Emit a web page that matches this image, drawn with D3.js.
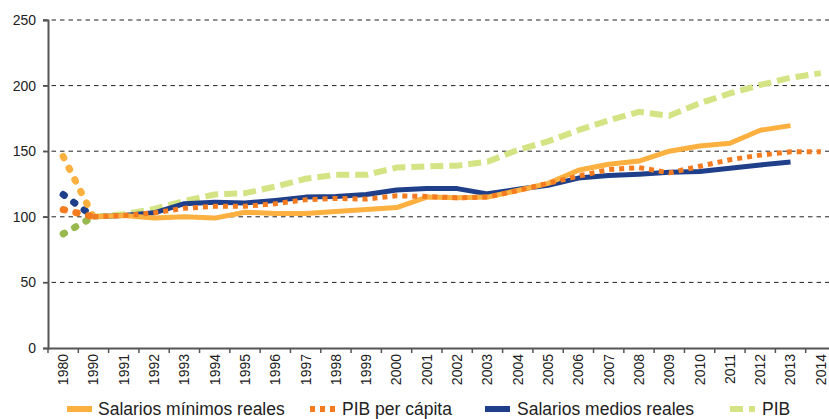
<!doctype html>
<html lang="es">
<head>
<meta charset="utf-8">
<title>Salarios y PIB</title>
<script src="https://cdn.jsdelivr.net/npm/d3@7"></script>
<style>
  body { margin: 0; background: #fff; }
  svg { display: block; font-family: "Liberation Sans", Arial, sans-serif; }
</style>
</head>
<body>
<svg id="chart" width="829" height="419"></svg>
<script>
// categories (1980 then 1990..2014)
const years = ["1980", "1990", "1991", "1992", "1993", "1994", "1995", "1996", "1997", "1998",
  "1999", "2000", "2001", "2002", "2003", "2004", "2005", "2006", "2007", "2008",
  "2009", "2010", "2011", "2012", "2013", "2014"];

// series (index 1990 = 100)
const salariosMinimos = [146, 100, 101, 99, 100, 99, 103.5, 102.5, 102.5, 104, 105.5, 107,
  115, 114.5, 115, 120, 125.5, 135.5, 140, 142.5, 150, 154, 156, 166, 169.5, null];
const pibPerCapita = [105.5, 100, 101, 103, 106.5, 108, 108, 110, 113, 114, 113.5, 116,
  115.5, 114.5, 115, 120, 125.5, 131, 136, 137.5, 133.5, 138.5, 143.5, 147, 149.5, 149.5];
const salariosMedios = [117, 100, 101, 103, 110, 111, 110.5, 112.5, 115, 115.5, 117, 120.5,
  121.5, 121.5, 117.5, 121, 124, 129.5, 131.5, 132.5, 134, 134.5, 137, 139.5, 141.7, null];
const pib = [87, 100, 102, 106, 112, 117, 118, 123, 129, 132, 132, 137.5,
  138.5, 139, 142, 151, 157.5, 166, 173.5, 180, 177, 186.5, 194, 200.5, 206, 209.5];

const yTicks = [0, 50, 100, 150, 200, 250];
const legendLabels = ["Salarios mínimos reales", "PIB per cápita", "Salarios medios reales", "PIB"];

const svg = d3.select("#chart");
const mLeft = 48, mTop = 20, mBottom = 348;

const x = d3.scaleBand().domain(years).range([mLeft, 836]);
const y = d3.scaleLinear().domain([0, 250]).range([mBottom, mTop]);
const cx = d => x(d) + x.bandwidth() / 2;

// gridlines
svg.append("g")
  .selectAll("line")
  .data(yTicks.filter(t => t > 0))
  .join("line")
  .attr("x1", mLeft - 5).attr("x2", 829)
  .attr("y1", d => y(d)).attr("y2", d => y(d))
  .attr("stroke", "#222").attr("stroke-width", 1)
  .attr("stroke-dasharray", "4.5 4");

// y axis
const yAxis = svg.append("g")
  .attr("transform", `translate(${mLeft},0)`)
  .call(d3.axisLeft(y).tickValues(yTicks).tickSize(5).tickPadding(7));
yAxis.select(".domain").attr("stroke", "#555").attr("stroke-width", 2);
yAxis.selectAll(".tick line").attr("stroke", "#555").attr("stroke-width", 1.5);
yAxis.selectAll("text").attr("font-size", 14).attr("fill", "#222")
  .attr("font-family", "Liberation Sans, Arial, sans-serif");

// x axis, ticks at band edges
const xAxis = svg.append("g")
  .attr("transform", `translate(0,${mBottom})`)
  .call(d3.axisBottom(x).tickSize(0).tickPadding(0));
xAxis.select(".domain").attr("stroke", "#555").attr("stroke-width", 2);
xAxis.selectAll(".tick text")
  .attr("font-size", 14).attr("fill", "#222")
  .attr("font-family", "Liberation Sans, Arial, sans-serif")
  .attr("transform", "rotate(-90)")
  .attr("text-anchor", "end")
  .attr("x", -6).attr("y", 0).attr("dy", "0.35em");
xAxis.append("g")
  .selectAll("line")
  .data(years)
  .join("line")
  .attr("x1", d => x(d)).attr("x2", d => x(d))
  .attr("y1", 0).attr("y2", 5)
  .attr("stroke", "#555").attr("stroke-width", 1.5);

const series = [
  { key: "pib", values: pib, color: "#d4e384", histColor: "#98b94f", width: 6, dash: "13 6", cap: "butt" },
  { key: "medios", values: salariosMedios, color: "#1f3f8a", histColor: "#1f3f8a", width: 5, dash: null, cap: "butt" },
  { key: "minimos", values: salariosMinimos, color: "#fbb040", histColor: "#fbb040", width: 5, dash: null, cap: "butt" },
  { key: "percapita", values: pibPerCapita, color: "#f47b20", histColor: "#f47b20", width: 5, dash: "5 5", cap: "butt" }
];

const line = d3.line()
  .defined(d => d.v != null)
  .x(d => cx(d.year))
  .y(d => y(d.v));

// 1980 -> 1990 segments drawn with round dots
series.forEach(s => {
  const pts = years.slice(0, 2).map((yr, i) => ({ year: yr, v: s.values[i] }));
  svg.append("path")
    .attr("d", line(pts))
    .attr("fill", "none")
    .attr("stroke", s.histColor)
    .attr("stroke-width", 7)
    .attr("stroke-linecap", "round")
    .attr("stroke-dasharray", "1.5 11.5");
});

// 1990 onwards
series.forEach(s => {
  const pts = years.slice(1).map((yr, i) => ({ year: yr, v: s.values[i + 1] }));
  svg.append("path")
    .attr("d", line(pts))
    .attr("fill", "none")
    .attr("stroke", s.color)
    .attr("stroke-width", s.width)
    .attr("stroke-linejoin", "round")
    .attr("stroke-linecap", s.cap)
    .attr("stroke-dasharray", s.dash);
});

// legend (kept just inside the bottom edge)
const legendItems = [
  { label: legendLabels[0], color: "#fbb040", dash: null, sx: 67, tx: 98 },
  { label: legendLabels[1], color: "#f47b20", dash: "5 5", sx: 310, tx: 342 },
  { label: legendLabels[2], color: "#1f3f8a", dash: null, sx: 485, tx: 517 },
  { label: legendLabels[3], color: "#d4e384", dash: "13 6", sx: 730, tx: 762 }
];
const lg = svg.append("g");
legendItems.forEach(it => {
  lg.append("line")
    .attr("x1", it.sx).attr("x2", it.sx + 25)
    .attr("y1", 409).attr("y2", 409)
    .attr("stroke", it.color).attr("stroke-width", 6)
    .attr("stroke-dasharray", it.dash);
  lg.append("text")
    .attr("x", it.tx).attr("y", 414.5)
    .attr("font-size", 17.5).attr("fill", "#222")
    .text(it.label);
});
</script>
</body>
</html>
